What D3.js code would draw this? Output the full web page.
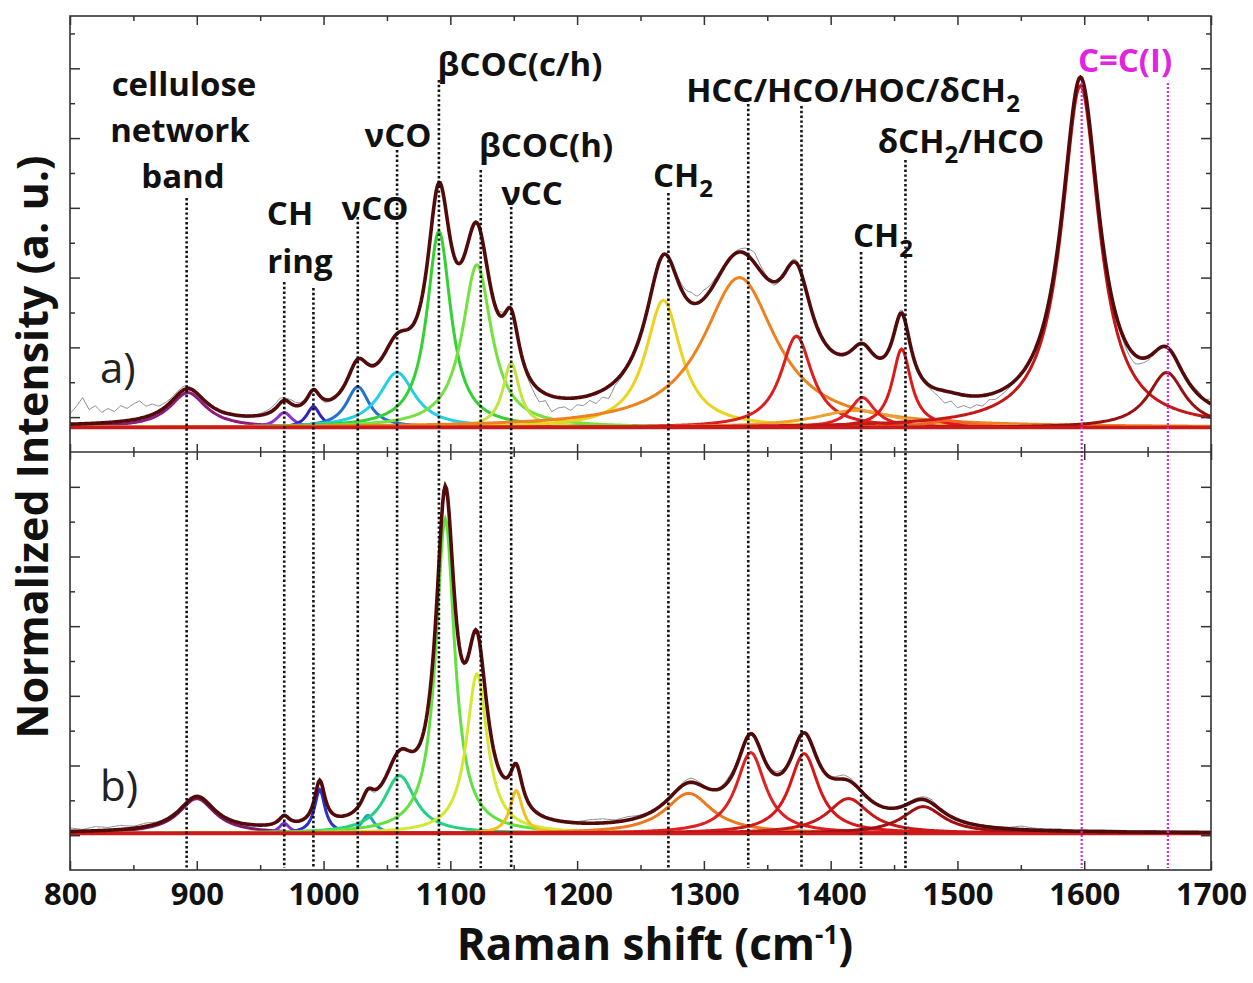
<!DOCTYPE html>
<html>
<head>
<meta charset="utf-8">
<script src="https://cdn.jsdelivr.net/npm/d3@7/dist/d3.min.js"></script>
<style>
body { margin: 0; background: #fff; }
text { font-family: "Open Sans", "DejaVu Sans", sans-serif; }
</style>
</head>
<body>
<svg id="chart" width="1253" height="983"></svg>
<script>
// fitted Lorentzian bands: centre (cm-1), height (a.u.), FWHM (cm-1)
var centersA = [893, 969, 992, 1027, 1058, 1091, 1121, 1148, 1268, 1328, 1373, 1420, 1425, 1456, 1492, 1597, 1665];
var heightsA = [0.100, 0.043, 0.060, 0.117, 0.158, 0.562, 0.467, 0.185, 0.365, 0.430, 0.262, 0.049, 0.086, 0.225, 0.020, 0.980, 0.158];
var fwhmA    = [35, 15, 13, 22, 34, 23, 28, 16, 34, 70, 30, 80, 24, 18, 40, 36, 35];
var baseA = 0.07;

var centersB = [900, 969, 997, 1035, 1060, 1096, 1121, 1152, 1288, 1337, 1379, 1414, 1473];
var heightsB = [0.100, 0.029, 0.126, 0.052, 0.166, 0.903, 0.458, 0.123, 0.115, 0.232, 0.229, 0.100, 0.077];
var fwhmB    = [35, 10, 10, 12, 30, 18, 20, 12, 45, 28, 28, 40, 40];
var baseB = 0.105;

var rawAx = [800, 805, 810, 815, 820, 825, 830, 835, 840, 845, 850, 855, 860, 865, 870, 880, 890, 900, 910, 920, 930, 940, 950, 960, 965, 970, 975, 980, 990, 1000, 1010, 1020, 1030, 1040, 1050, 1060, 1130, 1140, 1150, 1160, 1165, 1170, 1175, 1180, 1185, 1190, 1195, 1200, 1205, 1210, 1215, 1220, 1225, 1230, 1240, 1250, 1260, 1270, 1280, 1285, 1290, 1295, 1300, 1305, 1310, 1320, 1330, 1335, 1340, 1345, 1350, 1355, 1360, 1365, 1370, 1380, 1390, 1410, 1420, 1430, 1440, 1450, 1460, 1470, 1480, 1485, 1490, 1495, 1500, 1505, 1510, 1515, 1520, 1525, 1530, 1540, 1550, 1560, 1570, 1610, 1620, 1630, 1635, 1640, 1645, 1650, 1660, 1680, 1690, 1695, 1700];
var rawAd = [0.03, 0.05, 0.075, 0.04, 0.05, 0.03, 0.04, 0.03, 0.045, 0.035, 0.045, 0.05, 0.03, 0.03, 0.015, 0.01, 0.01, 0.0, 0.005, -0.005, 0.0, -0.005, 0.005, 0.012, 0.015, 0.005, 0.012, 0.008, 0.005, -0.008, 0.0, 0.004, 0.0, -0.006, 0.004, 0.0, 0.005, 0.012, 0.0, -0.01, -0.02, -0.035, -0.02, -0.045, -0.03, -0.025, -0.035, -0.02, -0.025, -0.015, -0.03, -0.02, -0.035, -0.012, -0.005, 0.008, 0.01, 0.0, 0.012, 0.02, 0.03, 0.02, 0.025, 0.015, 0.01, 0.0, 0.01, 0.02, 0.03, 0.015, 0.005, -0.01, -0.005, -0.01, 0.008, 0.004, 0.0, -0.005, 0.0, 0.006, 0.0, 0.008, 0.01, 0.0, -0.01, -0.02, -0.035, -0.025, -0.04, -0.03, -0.035, -0.025, -0.03, -0.015, -0.02, -0.008, 0.0, 0.004, 0.0, 0.004, 0.006, -0.01, -0.02, -0.025, -0.015, -0.01, 0.0, 0.005, 0.01, 0.0, 0.015];

var rawBx = [800, 810, 820, 830, 840, 850, 860, 870, 880, 890, 900, 910, 920, 1000, 1010, 1020, 1040, 1050, 1060, 1140, 1160, 1170, 1180, 1200, 1210, 1220, 1230, 1240, 1250, 1260, 1280, 1290, 1300, 1310, 1320, 1330, 1350, 1360, 1370, 1400, 1410, 1420, 1430, 1470, 1480, 1490, 1540, 1550, 1560, 1570, 1580, 1590, 1600, 1620, 1640, 1660, 1680, 1700];
var rawBd = [0.01, 0.005, 0.012, 0.008, 0.012, 0.006, 0.01, 0.004, 0.006, 0.0, 0.004, 0.008, 0.0, 0.0, -0.004, 0.0, -0.008, 0.006, 0.0, 0.005, 0.0, 0.006, 0.0, 0.004, 0.01, 0.012, 0.006, 0.01, 0.005, 0.0, 0.005, 0.012, 0.004, 0.0, 0.012, 0.004, 0.006, 0.01, 0.0, 0.004, 0.012, 0.006, 0.0, 0.006, 0.01, 0.0, 0.004, 0.01, 0.006, 0.004, 0.006, 0.002, 0.004, 0.005, 0.003, 0.005, 0.003, 0.004];

// band assignments (dotted markers)
var bandLines = [892, 969, 992, 1027, 1058, 1091, 1124, 1148, 1272, 1335, 1377, 1424, 1459];
var olefinLines = [1598, 1666];
var bandLabels = ["cellulose", "network", "band", "CH", "ring", "νCO", "νCO", "βCOC(c/h)", "βCOC(h)", "νCC", "CH_2", "HCC/HCO/HOC/δCH_2", "δCH_2/HCO", "CH_2"];
var olefinLabel = "C=C(I)";

var xTicks = [800, 900, 1000, 1100, 1200, 1300, 1400, 1500, 1600, 1700];

// styles / layout
var colorsA = ["#8c1c7e", "#8f2fd6", "#3422c2", "#2270d2", "#22cfe6", "#34d034", "#74e23e", "#c2e442", "#eed21e", "#ee8220", "#dc1e1e", "#f0a030", "#e02222", "#dc1a1a", "#f06424", "#c41818", "#9a1010"];
var colorsB = ["#7c1a6c", "#7c30d2", "#2a30d0", "#20a2c4", "#22d282", "#62e040", "#d4e832", "#f0c020", "#ea7a20", "#e02020", "#d81818", "#c81818", "#a01010"];
var lineTops = [198, 282, 288, 217, 150, 80, 170, 207, 193, 104, 106, 252, 160];
var olefinTops = [83, 83];
var labelPos = [[184, 96, "middle"], [180, 142, "middle"], [183, 188, "middle"], [290, 225, "middle"], [300, 273, "middle"],
  [375, 220, "middle"], [398, 147, "middle"], [520, 76, "middle"], [546, 157, "middle"], [532, 205, "middle"],
  [653, 187, "start"], [853, 102, "middle"], [961, 153, "middle"], [853, 247, "start"]];

var svg = d3.select("#chart");
var plotL = 70, plotR = 1211, plotT = 16, plotM = 452, plotB = 870;

var x = d3.scaleLinear().domain([800, 1700]).range([plotL, plotR]);
var yA = d3.scaleLinear().domain([0, 1.25]).range([plotM, plotT]);
var yB = d3.scaleLinear().domain([0, 1.2]).range([plotB, plotM]);

function lorentz(w, c, h, f) {
  var g = f / 2, d = (w - c) / g;
  return h / (1 + d * d);
}

var grid = d3.range(800, 1700.5, 1);

var panels = [
  {y: yA, base: baseA, c: centersA, h: heightsA, f: fwhmA, col: colorsA, rx: rawAx, rd: rawAd, y0: plotT, y1: plotM, id: "A"},
  {y: yB, base: baseB, c: centersB, h: heightsB, f: fwhmB, col: colorsB, rx: rawBx, rd: rawBd, y0: plotM, y1: plotB, id: "B"}
];

panels.forEach(function(p) {
  svg.append("clipPath").attr("id", "clip" + p.id)
    .append("rect").attr("x", plotL).attr("y", p.y0).attr("width", plotR - plotL).attr("height", p.y1 - p.y0);

  var g = svg.append("g").attr("clip-path", "url(#clip" + p.id + ")");
  var line = d3.line().x(d => x(d[0])).y(d => p.y(d[1]));

  function fit(w) {
    var s = p.base;
    for (var i = 0; i < p.c.length; i++) s += lorentz(w, p.c[i], p.h[i], p.f[i]);
    return s;
  }

  // components
  p.c.forEach(function(c, i) {
    g.append("path")
      .datum(grid.map(w => [w, p.base + lorentz(w, c, p.h[i], p.f[i])]))
      .attr("d", line)
      .attr("fill", "none")
      .attr("stroke", p.col[i])
      .attr("stroke-width", 3);
  });

  // measured spectrum
  var resid = d3.scaleLinear().domain(p.rx).range(p.rd).clamp(true);
  g.append("path")
    .datum(grid.map(w => [w, fit(w) + resid(w)]))
    .attr("d", line)
    .attr("fill", "none")
    .attr("stroke", "#8a8a8a")
    .attr("stroke-width", 1);

  // baseline
  g.append("line")
    .attr("x1", plotL).attr("x2", plotR)
    .attr("y1", p.y(p.base)).attr("y2", p.y(p.base))
    .attr("stroke", "#cc1a1a").attr("stroke-width", 3.5);

  // cumulative fit
  g.append("path")
    .datum(grid.map(w => [w, fit(w)]))
    .attr("d", line)
    .attr("fill", "none")
    .attr("stroke", "#520a0a")
    .attr("stroke-width", 3.6);
});

// dotted assignment lines
bandLines.forEach(function(w, i) {
  svg.append("line")
    .attr("x1", x(w)).attr("x2", x(w))
    .attr("y1", lineTops[i]).attr("y2", plotB - 2)
    .attr("stroke", "#111").attr("stroke-width", 2.6)
    .attr("stroke-dasharray", "2.4,2.4");
});
olefinLines.forEach(function(w, i) {
  svg.append("line")
    .attr("x1", x(w)).attr("x2", x(w))
    .attr("y1", olefinTops[i]).attr("y2", plotB - 2)
    .attr("stroke", "#d22ed2").attr("stroke-width", 2.2)
    .attr("stroke-dasharray", "2,2");
});

// frame
svg.append("rect")
  .attr("x", plotL).attr("y", plotT).attr("width", plotR - plotL).attr("height", plotB - plotT)
  .attr("fill", "none").attr("stroke", "#333").attr("stroke-width", 1.6);
svg.append("line")
  .attr("x1", plotL).attr("x2", plotR).attr("y1", plotM).attr("y2", plotM)
  .attr("stroke", "#333").attr("stroke-width", 1.6);

// x ticks
var minorX = d3.range(850, 1700, 100);
function xAxis(gen, y, major, minor, labels) {
  var a = svg.append("g").attr("transform", "translate(0," + y + ")")
    .call(gen(x).tickValues(xTicks).tickSize(major).tickPadding(13)
      .tickFormat(labels ? d3.format("d") : ""));
  a.select(".domain").remove();
  var b = svg.append("g").attr("transform", "translate(0," + y + ")")
    .call(gen(x).tickValues(minorX).tickSize(minor).tickFormat(""));
  b.select(".domain").remove();
  return a;
}
xAxis(d3.axisTop, plotT, -9, -5, false);
xAxis(d3.axisTop, plotM, 8, 5, false);
xAxis(d3.axisBottom, plotM, 8, 5, false);
var xa = xAxis(d3.axisBottom, plotB, -9, -5, true);
xa.selectAll("text").attr("font-size", 31).attr("font-weight", 700).attr("fill", "#111")
  .style("font-family", "'Open Sans', sans-serif");
svg.selectAll(".tick line").attr("stroke", "#333").attr("stroke-width", 1.5);

// y ticks (no labels)
function yAxes(scale, major, minor) {
  [[d3.axisLeft, plotL], [d3.axisRight, plotR]].forEach(function(s) {
    [[major, -10], [minor, -5]].forEach(function(t) {
      var a = svg.append("g").attr("transform", "translate(" + s[1] + ",0)")
        .call(s[0](scale).tickValues(t[0]).tickSize(t[1]).tickFormat(""));
      a.select(".domain").remove();
      a.selectAll("line").attr("stroke", "#333").attr("stroke-width", 1.5);
    });
  });
}
yAxes(yA, [0.1, 0.3, 0.5, 0.7, 0.9, 1.1], [0.2, 0.4, 0.6, 0.8, 1.0, 1.2]);
yAxes(yB, [0.1, 0.3, 0.5, 0.7, 0.9, 1.1], [0.2, 0.4, 0.6, 0.8, 1.0]);

// labels
function addLabel(str, px, py, anchor, color) {
  var t = svg.append("text")
    .attr("x", px).attr("y", py)
    .attr("text-anchor", anchor)
    .attr("font-size", 33).attr("font-weight", 700)
    .attr("fill", color);
  str.split("_2").forEach(function(part, i) {
    if (i > 0) {
      t.append("tspan").attr("dy", 10).attr("font-size", 24).text("2");
      t.append("tspan").attr("dy", -10).text(part);
    } else {
      t.append("tspan").text(part);
    }
  });
}
bandLabels.forEach(function(s, i) {
  addLabel(s, labelPos[i][0], labelPos[i][1], labelPos[i][2], "#111");
});
addLabel(olefinLabel, 1125, 72, "middle", "#e024e0");

svg.append("text").attr("x", 100).attr("y", 383).attr("font-size", 42).attr("fill", "#222").text("a)");
svg.append("text").attr("x", 100).attr("y", 801).attr("font-size", 42).attr("fill", "#222").text("b)");

// axis titles
svg.append("text")
  .attr("transform", "translate(48,447) rotate(-90)")
  .attr("text-anchor", "middle")
  .attr("font-size", 43).attr("font-weight", 700).attr("fill", "#111")
  .text("Normalized Intensity (a. u.)");

var xt = svg.append("text")
  .attr("x", 655).attr("y", 960)
  .attr("text-anchor", "middle")
  .attr("font-size", 44).attr("font-weight", 700).attr("fill", "#111");
xt.append("tspan").text("Raman shift (cm");
xt.append("tspan").attr("dy", -16).attr("font-size", 26).text("-1");
xt.append("tspan").attr("dy", 16).text(")");
</script>
</body>
</html>
